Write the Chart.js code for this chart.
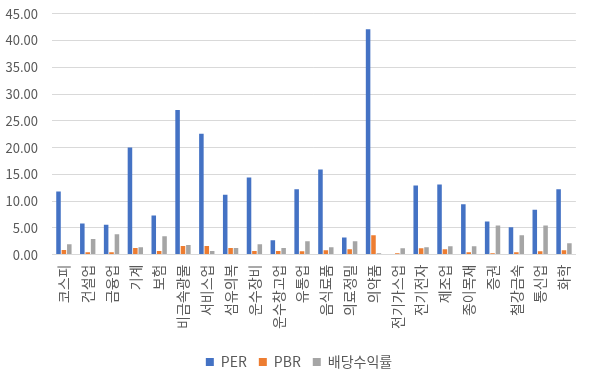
<!DOCTYPE html>
<html>
<head>
<meta charset="utf-8">
<script src="https://cdn.jsdelivr.net/npm/chart.js@4"></script>
<style>
html,body{margin:0;padding:0;background:#fff;overflow:hidden;}
#wrap{width:591px;height:387px;position:relative;margin-top:-8px;}
</style>
</head>
<body>
<div id="wrap"><canvas id="c"></canvas></div>
<script>
const categories = ['코스피','건설업','금융업','기계','보험','비금속광물','서비스업','섬유의복','운수장비','운수창고업','유통업','음식료품','의료정밀','의약품','전기가스업','전기전자','제조업','종이목재','증권','철강금속','통신업','화학'];
const perValues = [11.8,5.8,5.6,20.0,7.3,27.0,22.6,11.2,14.4,2.7,12.2,15.9,3.2,42.1,null,12.9,13.1,9.4,6.2,5.1,8.4,12.2];
const pbrValues = [0.87,0.43,0.43,1.24,0.68,1.61,1.61,1.24,0.68,0.68,0.62,0.81,0.99,3.6,0.25,1.18,0.99,0.43,0.25,0.43,0.62,0.81];
const divValues = [1.92,2.91,3.78,1.36,3.41,1.80,0.68,1.24,1.92,1.24,2.48,1.36,2.48,0.25,1.18,1.36,1.55,1.55,5.46,3.6,5.46,2.11];
const seriesNames = ['PER','PBR','배당수익률'];
const yTicks = {min:0,max:45,step:5};

const FONT = "'Noto Sans CJK KR','Noto Sans',sans-serif";
const legendShift = {
  id:'legendShift',
  afterLayout(chart){
    const lg = chart.legend;
    if (lg) { lg.left += 8; lg.right += 8; }
  }
};
new Chart(document.getElementById('c'), {
  type:'bar',
  data:{
    labels:categories,
    datasets:[
      {label:seriesNames[0],data:perValues,backgroundColor:'#4472c4'},
      {label:seriesNames[1],data:pbrValues,backgroundColor:'#ed7d31'},
      {label:seriesNames[2],data:divValues,backgroundColor:'#a5a5a5'}
    ]
  },
  plugins:[legendShift],
  options:{
    responsive:true,maintainAspectRatio:false,animation:false,
    datasets:{bar:{categoryPercentage:0.68,barPercentage:0.84}},
    layout:{padding:{top:6,right:9,left:0,bottom:0}},
    plugins:{
      legend:{position:'bottom',labels:{boxWidth:8,boxHeight:8,padding:12,color:'#595959',font:{family:FONT,size:14}}},
      tooltip:{enabled:false}
    },
    scales:{
      x:{
        grid:{display:false,drawTicks:false},
        border:{color:'#d9d9d9'},
        afterFit:function(s){s.height += 4;},
        ticks:{minRotation:90,maxRotation:90,autoSkip:false,color:'#595959',padding:10,font:{family:FONT,size:14}}
      },
      y:{
        min:yTicks.min,max:yTicks.max,
        grid:{color:'#d9d9d9',drawTicks:false},
        border:{display:false},
        afterFit:function(s){s.width = 52;},
        ticks:{stepSize:yTicks.step,color:'#595959',padding:14,font:{family:FONT,size:13},callback:v=>v.toFixed(2)}
      }
    }
  }
});
</script>
</body>
</html>
